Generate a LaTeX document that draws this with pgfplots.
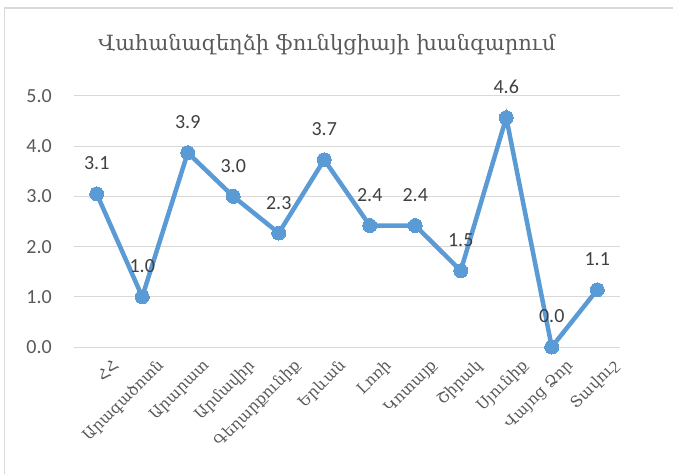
\documentclass[border=0pt]{standalone}
\usepackage{fontspec}
\usepackage{pgfplots}
\pgfplotsset{compat=1.18}
\newfontfamily\armfont{DejaVu Serif}
\newfontfamily\numfont{Carlito}
\definecolor{linec}{HTML}{5B9BD5}
\definecolor{txt}{HTML}{595959}
\definecolor{lab}{HTML}{404040}
\definecolor{gridc}{HTML}{D9D9D9}
\definecolor{bord}{HTML}{D9D9D9}
\begin{document}
\begin{tikzpicture}
\begin{axis}[
  scale only axis, width=546pt, height=251pt,
  xmin=-0.5, xmax=11.5, ymin=0, ymax=5,
  clip=false,
  axis line style={draw=none},
  ymajorgrids, grid style={gridc, line width=1pt},
  ytick={0,1,2,3,4,5},
  xtick={0,...,11},
  xticklabels={ՀՀ,Արագածոտն,Արարատ,Արմավիր,Գեղարքունիք,Երևան,Լոռի,Կոտայք,Շիրակ,Սյունիք,Վայոց Ձոր,Տավուշ},
  major tick length=0pt,
  /pgf/number format/assume math mode=true,
  /pgf/number format/fixed, /pgf/number format/fixed zerofill, /pgf/number format/precision=1,
  yticklabel style={font=\numfont\fontsize{20}{24}\selectfont, txt, inner sep=0pt, anchor=east, xshift=-22pt},
  xticklabel style={font=\armfont\fontsize{15.5}{18}\selectfont, txt, rotate=45, anchor=east, inner sep=0pt, xshift=2pt, yshift=-25pt},
  nodes near coords,
  point meta=explicit symbolic,
  every node near coord/.append style={font=\numfont\fontsize{20}{24}\selectfont, color=lab, anchor=base, yshift=24pt},
]
\coordinate (o) at (axis cs:-0.5,0);
\addplot[linec, line width=4.5pt, mark=*, mark size=7pt, mark options={fill=linec, draw=linec, line width=0pt}]
 table[x=x, y=y, meta=lab] {
x y lab
0 3.05 3.1
1 1.0 1.0
2 3.87 3.9
3 3.0 3.0
4 2.27 2.3
5 3.73 3.7
6 2.42 2.4
7 2.42 2.4
8 1.52 1.5
9 4.57 4.6
10 0.0 0.0
11 1.14 1.1
};
\end{axis}
\draw[bord, line width=1.5pt] ([shift={(-69.5pt,-127pt)}]o) -- ([shift={(-69.5pt,339pt)}]o) -- ([shift={(599pt,339pt)}]o);
\node[txt, font=\armfont\fontsize{21}{25}\selectfont] at ([shift={(253pt,302pt)}]o) {Վահանազեղձի ֆունկցիայի խանգարում};
\pgfresetboundingbox
\path[use as bounding box] ([shift={(-74pt,-127pt)}]o) rectangle ([shift={(599pt,347pt)}]o);
\end{tikzpicture}
\end{document}
